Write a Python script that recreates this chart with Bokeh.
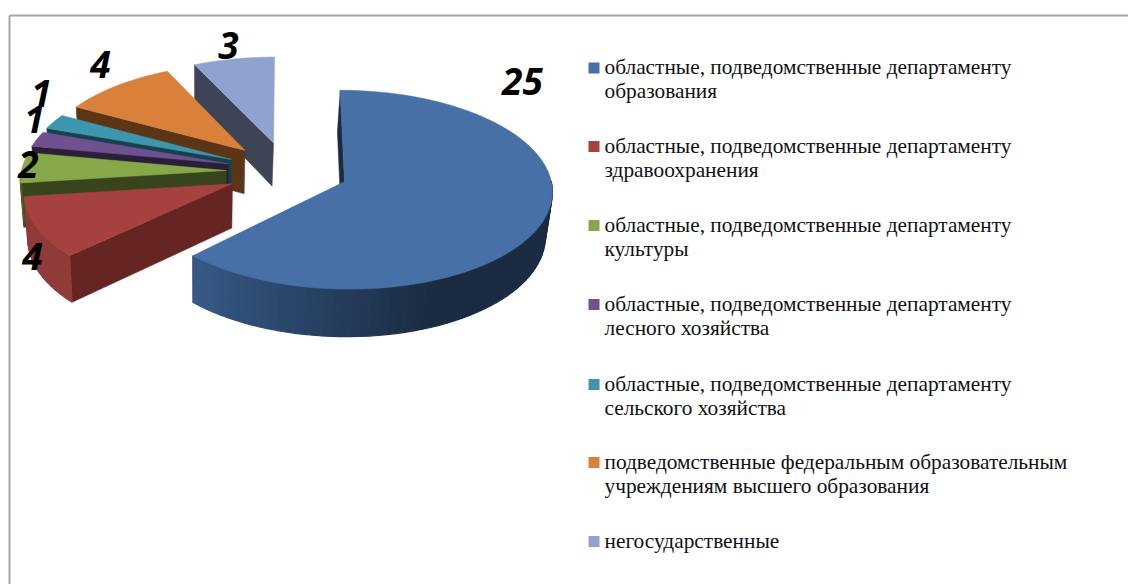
import numpy as np
from bokeh.core.properties import value
from bokeh.embed import file_html
from bokeh.models import Range1d
from bokeh.plotting import figure
from bokeh.resources import INLINE

categories = [
    ["областные, подведомственные департаменту", "образования"],
    ["областные, подведомственные департаменту", "здравоохранения"],
    ["областные, подведомственные департаменту", "культуры"],
    ["областные, подведомственные департаменту", "лесного хозяйства"],
    ["областные, подведомственные департаменту", "сельского хозяйства"],
    ["подведомственные федеральным образовательным", "учреждениям высшего образования"],
    ["негосударственные"],
]
counts = [25, 4, 2, 1, 1, 4, 3]
top_colors = ["#4670a6", "#a5423f", "#86a849", "#6f5090", "#3d96ae", "#d9813a", "#8fa3ce"]
wall_colors = ["#1b2c42", "#642523", "#37441c", "#2a1e38", "#17414e", "#5c3515", "#3c4456"]
rim_light = ["#375a88", "#8f3b39", "#4b5c26", "#3a2a4c", "#20586a", "#7a4a1e", "#515c74"]
label_xy = [(522, 81), (32, 256), (28, 164), (34, 119), (41, 93), (100, 64), (228, 45)]

W, H = 1128, 584
CX, CY, RX, RY, K, EXPL = 287, 170, 205, 97, 0.08, 0.298
TWIST = np.radians(1.7)


def proj(X, Y):
    w = 1 + K * Y
    return CX + RX * X / w, CY - RY * Y / w


def lower(x, y):
    return 200 + (x - 200) * 0.98, y + 43 + (y - 138) * 0.03


p = figure(width=W, height=H, output_backend="svg", toolbar_location=None,
           x_range=Range1d(0, W), y_range=Range1d(H, 0),
           min_border=0, outline_line_color=None, background_fill_color="white")
p.axis.visible = False
p.grid.visible = False

# frame
p.line([9, 9], [H, 15], line_color="#a6a6a6", line_width=2)
p.line([9, W], [15, 15], line_color="#a6a6a6", line_width=2)

total = sum(counts)
edges = np.cumsum([0] + counts) / total * 2 * np.pi


def draw_slice(i):
    a0, a1 = edges[i], edges[i + 1]
    mid = (a0 + a1) / 2
    ox, oy = EXPL * np.sin(mid), EXPL * np.cos(mid)
    start = a0 + (TWIST if i > 0 else 0.0)
    end = a1 + (TWIST if 0 < i < len(counts) - 1 else 0.0)
    th = np.linspace(start, end, max(8, int((a1 - a0) * 24)))
    ax, ay = proj(ox, oy)
    tx, ty = proj(ox + np.sin(th), oy + np.cos(th))
    bx, by = lower(tx, ty)
    bax, bay = lower(ax, ay)
    p.patch([ax, tx[0], bx[0], bax], [ay, ty[0], by[0], bay],
            fill_color=wall_colors[i], line_color=wall_colors[i], line_width=0.5)
    c0 = np.array([int(rim_light[i][j:j + 2], 16) for j in (1, 3, 5)])
    c1 = np.array([int(wall_colors[i][j:j + 2], 16) for j in (1, 3, 5)])
    for n in range(len(th) - 1):
        if np.cos(th[n]) > 0.05 and th[n] < np.pi:
            continue
        if th[n] >= np.pi and np.cos(th[n]) > -0.05:
            continue
        f = np.clip((np.sin(th[n]) + 0.707) / 1.1, 0, 1)
        col = c0 + (c1 - c0) * f
        h = "#%02x%02x%02x" % tuple(int(v) for v in col)
        p.patch([tx[n], tx[n + 1], bx[n + 1], bx[n]], [ty[n], ty[n + 1], by[n + 1], by[n]],
                fill_color=h, line_color=h, line_width=1.2)
    p.patch(np.r_[ax, tx], np.r_[ay, ty], fill_color=top_colors[i],
            line_color=top_colors[i], line_width=0.5)


for i in [6, 5, 4, 3, 2, 1, 0]:
    draw_slice(i)

lx = [v[0] for v in label_xy]
ly = [v[1] for v in label_xy]
p.text(lx, ly, text=[str(c) for c in counts], text_font=value("Open Sans"), text_font_size="37px",
       text_font_style="bold italic", text_color="black", text_align="center", text_baseline="middle")

y = [67.5, 146, 225, 304, 384, 462, 541]
p.rect([593.5] * 7, y, width=11, height=11, fill_color=top_colors, line_color=None)
for yy, lines in zip(y, categories):
    for j, t in enumerate(lines):
        p.text([604], [yy - 1 + j * 24], text=[t], text_font=value("Liberation Serif"),
               text_font_size="21.35px", text_color="#111111", text_align="left", text_baseline="middle")

open("out.html", "w").write(file_html(p, INLINE))
